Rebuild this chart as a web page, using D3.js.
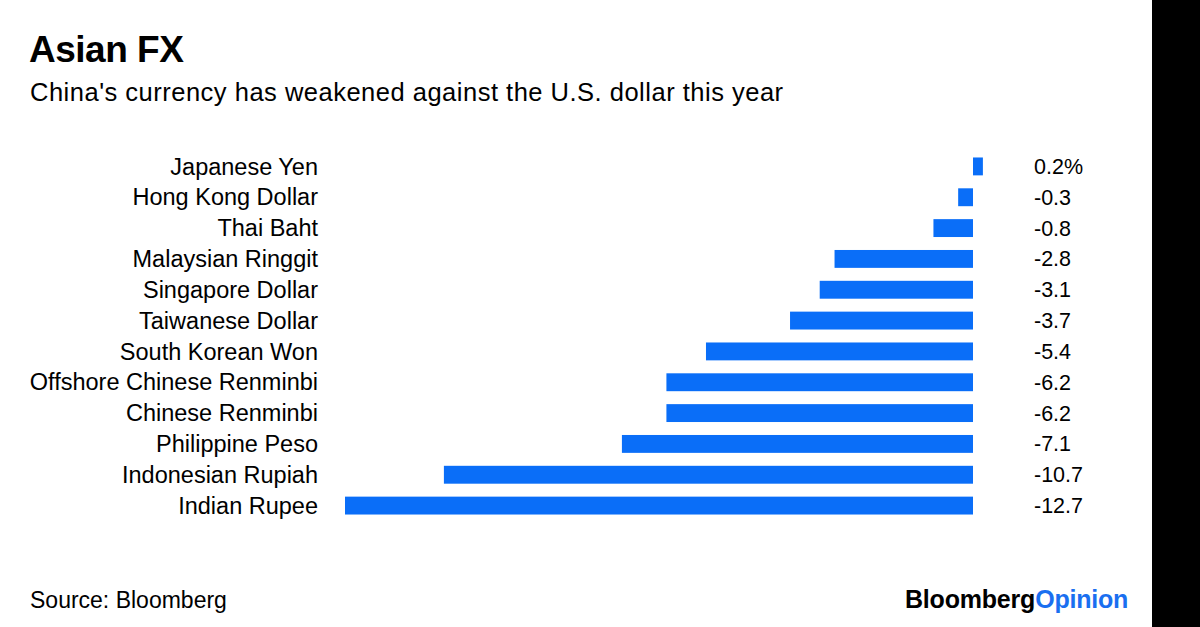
<!DOCTYPE html>
<html>
<head>
<meta charset="utf-8">
<script src="https://cdn.jsdelivr.net/npm/d3@7"></script>
<style>
  html, body { margin: 0; padding: 0; background: #fff; }
  svg text { font-family: "Liberation Sans", Arial, Helvetica, sans-serif; fill: #000; }
</style>
</head>
<body>
<svg id="chart" width="1200" height="627"></svg>
<script>
const categories = ["Japanese Yen", "Hong Kong Dollar", "Thai Baht", "Malaysian Ringgit", "Singapore Dollar", "Taiwanese Dollar", "South Korean Won", "Offshore Chinese Renminbi", "Chinese Renminbi", "Philippine Peso", "Indonesian Rupiah", "Indian Rupee"];
const values = [0.2, -0.3, -0.8, -2.8, -3.1, -3.7, -5.4, -6.2, -6.2, -7.1, -10.7, -12.7];
const valueLabels = ["0.2%", "-0.3", "-0.8", "-2.8", "-3.1", "-3.7", "-5.4", "-6.2", "-6.2", "-7.1", "-10.7", "-12.7"];

const svg = d3.select("#chart");
svg.append("rect").attr("x", 0).attr("y", 0).attr("width", 1200).attr("height", 627).attr("fill", "#fff");
svg.append("rect").attr("x", 1152).attr("y", 0).attr("width", 48).attr("height", 627).attr("fill", "#000");

svg.append("text").attr("x", 29).attr("y", 62).attr("font-size", 37).attr("font-weight", "bold")
  .attr("letter-spacing", -0.5).text("Asian FX");
svg.append("text").attr("x", 30).attr("y", 101).attr("font-size", 25.5).attr("letter-spacing", 0.5)
  .text("China's currency has weakened against the U.S. dollar this year");

const x = d3.scaleLinear().domain([-12.7, 0]).range([345, 973]);
const y = d3.scaleBand().domain(categories).range([151, 521]).paddingInner(0.42).paddingOuter(0.21);

const color = "#0a6ef8";
svg.append("g").selectAll("rect").data(values).join("rect")
  .attr("x", d => x(Math.min(0, d)))
  .attr("width", d => Math.abs(x(d) - x(0)))
  .attr("y", (d, i) => y(categories[i]))
  .attr("height", y.bandwidth())
  .attr("fill", color);

svg.append("g").selectAll("text").data(categories).join("text")
  .attr("x", 318)
  .attr("y", d => y(d) + y.bandwidth() / 2)
  .attr("dy", "0.35em")
  .attr("text-anchor", "end")
  .attr("font-size", 23.5)
  .text(d => d);

svg.append("g").selectAll("text").data(valueLabels).join("text")
  .attr("x", 1034)
  .attr("y", (d, i) => y(categories[i]) + y.bandwidth() / 2)
  .attr("dy", "0.35em")
  .attr("font-size", 21.5)
  .text(d => d);

svg.append("text").attr("x", 30).attr("y", 608).attr("font-size", 23).text("Source: Bloomberg");

const logo = svg.append("text").attr("x", 905).attr("y", 608).attr("font-size", 25)
  .attr("font-weight", "bold").attr("letter-spacing", -0.2);
logo.append("tspan").attr("fill", "#000").text("Bloomberg");
logo.append("tspan").attr("fill", "#1a6ff0").style("fill", "#1a6ff0").text("Opinion");
</script>
</body>
</html>
